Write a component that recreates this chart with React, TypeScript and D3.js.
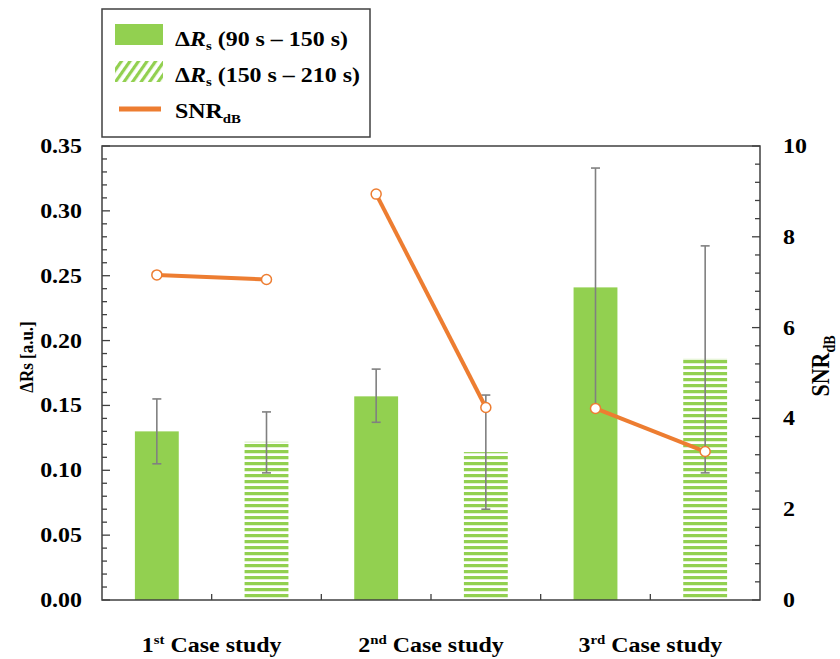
import * as d3 from 'd3';

const categories = ['c1a', 'c1b', 'c2a', 'c2b', 'c3a', 'c3b'];
const caseLabels = [
  { num: '1', sup: 'st' },
  { num: '2', sup: 'nd' },
  { num: '3', sup: 'rd' },
];
const deltaRs = [0.13, 0.122, 0.157, 0.114, 0.241, 0.186];
const errLow = [0.105, 0.098, 0.137, 0.07, 0.149, 0.098];
const errHigh = [0.155, 0.145, 0.178, 0.158, 0.333, 0.273];
const hatched = [false, true, false, true, false, true];
const snr = [7.16, 7.06, 8.94, 4.24, 4.22, 3.27];
const leftTicks = [0, 0.05, 0.1, 0.15, 0.2, 0.25, 0.3, 0.35];
const rightTicks = [0, 2, 4, 6, 8, 10];

const GREEN = '#92d050';
const ORANGE = '#ed7d31';
const FRAME = '#404040';
const FONT = '"Liberation Serif", "Times New Roman", serif';
const STRETCH = 1.14; // the source picture is a bit wider than tall

const left = 102;
const right = 760;
const top = 146;
const bottom = 600;

// horizontal text, widened like the reference
const T = ({ x, y, anchor = 'start', size = 21, children }) => (
  <text
    transform={`translate(${x},${y}) scale(${STRETCH},1)`}
    textAnchor={anchor}
    fontSize={size}
    fontFamily={FONT}
    fontWeight="bold"
    fill="#000"
  >
    {children}
  </text>
);

const App = () => {
  const x = d3
    .scaleBand()
    .domain(categories)
    .range([left, right])
    .paddingInner(0.6)
    .paddingOuter(0.3);
  const y = d3.scaleLinear().domain([0, 0.35]).range([bottom, top]);
  const y2 = d3.scaleLinear().domain([0, 10]).range([bottom, top]);

  const minorLeft = d3.range(0, 0.3501, 0.01);
  const minorRight = d3.range(0, 10.001, 0.4);
  const boundaries = d3.range(1, 6).map((i) => left + i * x.step());
  const cx = (i) => x(categories[i]) + x.bandwidth() / 2;

  const line = d3
    .line()
    .x((d) => cx(d.i))
    .y((d) => y2(d.v));
  const pts = snr.map((v, i) => ({ v, i }));
  const segments = [pts.slice(0, 2), pts.slice(2, 4), pts.slice(4, 6)];

  return (
    <svg width={840} height={659} style={{ position: 'absolute', left: 0, top: 0 }}>
      <defs>
        <pattern id="hstripe" patternUnits="userSpaceOnUse" width={8} height={6}>
          <rect x={0} y={0} width={8} height={3} fill={GREEN} />
          <rect x={0} y={3} width={8} height={1} fill={GREEN} opacity={0.25} />
        </pattern>
        <pattern
          id="dstripe"
          patternUnits="userSpaceOnUse"
          width={7}
          height={7}
          patternTransform="rotate(35)"
        >
          <rect x={0} y={0} width={3.2} height={7} fill={GREEN} />
        </pattern>
      </defs>
      <rect width={840} height={659} fill="#fff" />

      {/* bars */}
      {deltaRs.map((v, i) => (
        <rect
          key={categories[i]}
          x={x(categories[i])}
          y={y(v)}
          width={x.bandwidth()}
          height={bottom - y(v)}
          fill={hatched[i] ? 'url(#hstripe)' : GREEN}
        />
      ))}
      {deltaRs.map((v, i) =>
        hatched[i] ? (
          <line
            key={'t' + i}
            x1={x(categories[i])}
            x2={x(categories[i]) + x.bandwidth()}
            y1={y(v) + 0.5}
            y2={y(v) + 0.5}
            stroke={GREEN}
            strokeOpacity={0.3}
          />
        ) : null
      )}

      {/* error bars */}
      {deltaRs.map((v, i) => (
        <g key={'e' + i} stroke="#808080" strokeWidth={1.6}>
          <line x1={cx(i)} x2={cx(i)} y1={y(errHigh[i])} y2={y(errLow[i])} />
          <line x1={cx(i) - 4.5} x2={cx(i) + 4.5} y1={y(errHigh[i])} y2={y(errHigh[i])} />
          <line x1={cx(i) - 4.5} x2={cx(i) + 4.5} y1={y(errLow[i])} y2={y(errLow[i])} />
        </g>
      ))}

      {/* SNR lines */}
      {segments.map((s, k) => (
        <path key={'l' + k} d={line(s)} fill="none" stroke={ORANGE} strokeWidth={4} />
      ))}
      {pts.map((p) => (
        <circle
          key={'p' + p.i}
          cx={cx(p.i)}
          cy={y2(p.v)}
          r={5}
          fill="#fff"
          stroke={ORANGE}
          strokeWidth={1.5}
        />
      ))}

      {/* frame */}
      <rect
        x={left}
        y={top}
        width={right - left}
        height={bottom - top}
        fill="none"
        stroke={FRAME}
        strokeWidth={1.5}
      />

      {/* ticks */}
      {minorLeft.map((t, i) => (
        <line
          key={'ml' + i}
          x1={left}
          x2={left + (i % 5 === 0 ? 8 : 5)}
          y1={y(t)}
          y2={y(t)}
          stroke={FRAME}
          strokeWidth={1.3}
        />
      ))}
      {minorRight.map((t, i) => (
        <line
          key={'mr' + i}
          x1={right}
          x2={right - (i % 5 === 0 ? 8 : 5)}
          y1={y2(t)}
          y2={y2(t)}
          stroke={FRAME}
          strokeWidth={1.3}
        />
      ))}
      {boundaries.map((b, i) => (
        <line key={'b' + i} x1={b} x2={b} y1={bottom} y2={bottom - 6} stroke={FRAME} strokeWidth={1.3} />
      ))}

      {/* tick labels */}
      {leftTicks.map((t) => (
        <T key={'lt' + t} x={82} y={y(t) + 7} anchor="end">
          {d3.format('.2f')(t)}
        </T>
      ))}
      {rightTicks.map((t) => (
        <T key={'rt' + t} x={783} y={y2(t) + 7}>
          {t}
        </T>
      ))}
      {caseLabels.map((c, i) => (
        <T key={'c' + i} x={left + (2 * i + 1) * x.step()} y={652} anchor="middle">
          {c.num}
          <tspan fontSize={13} dy={-8}>{c.sup}</tspan>
          <tspan dy={8}> Case study</tspan>
        </T>
      ))}

      {/* axis titles */}
      <g fontFamily={FONT} fontWeight="bold" fill="#000">
        <text
          transform={`translate(33,357) scale(${STRETCH},1) rotate(-90)`}
          textAnchor="middle"
          fontSize={17}
        >
          ΔRs [a.u.]
        </text>
        <text
          transform={`translate(829,366) scale(${STRETCH},1) rotate(-90)`}
          textAnchor="middle"
          fontSize={22}
        >
          SNR<tspan fontSize={14} dy={5}>dB</tspan>
        </text>
      </g>

      {/* legend */}
      <rect x={102} y={9} width={268} height={128} fill="#fff" stroke={FRAME} strokeWidth={1.5} />
      <rect x={115} y={24} width={48} height={21} fill={GREEN} />
      <rect x={115} y={61} width={48} height={21} fill="url(#dstripe)" />
      <line x1={119} x2={161} y1={109} y2={109} stroke={ORANGE} strokeWidth={5} />
      <T x={175} y={46}>
        Δ<tspan fontStyle="italic">R</tspan>
        <tspan fontSize={13} dy={4}>s</tspan>
        <tspan dy={-4}> (90 s – 150 s)</tspan>
      </T>
      <T x={175} y={82}>
        Δ<tspan fontStyle="italic">R</tspan>
        <tspan fontSize={13} dy={4}>s</tspan>
        <tspan dy={-4}> (150 s – 210 s)</tspan>
      </T>
      <T x={175} y={118}>
        SNR<tspan fontSize={13} dy={5}>dB</tspan>
      </T>
    </svg>
  );
};

export default App;
